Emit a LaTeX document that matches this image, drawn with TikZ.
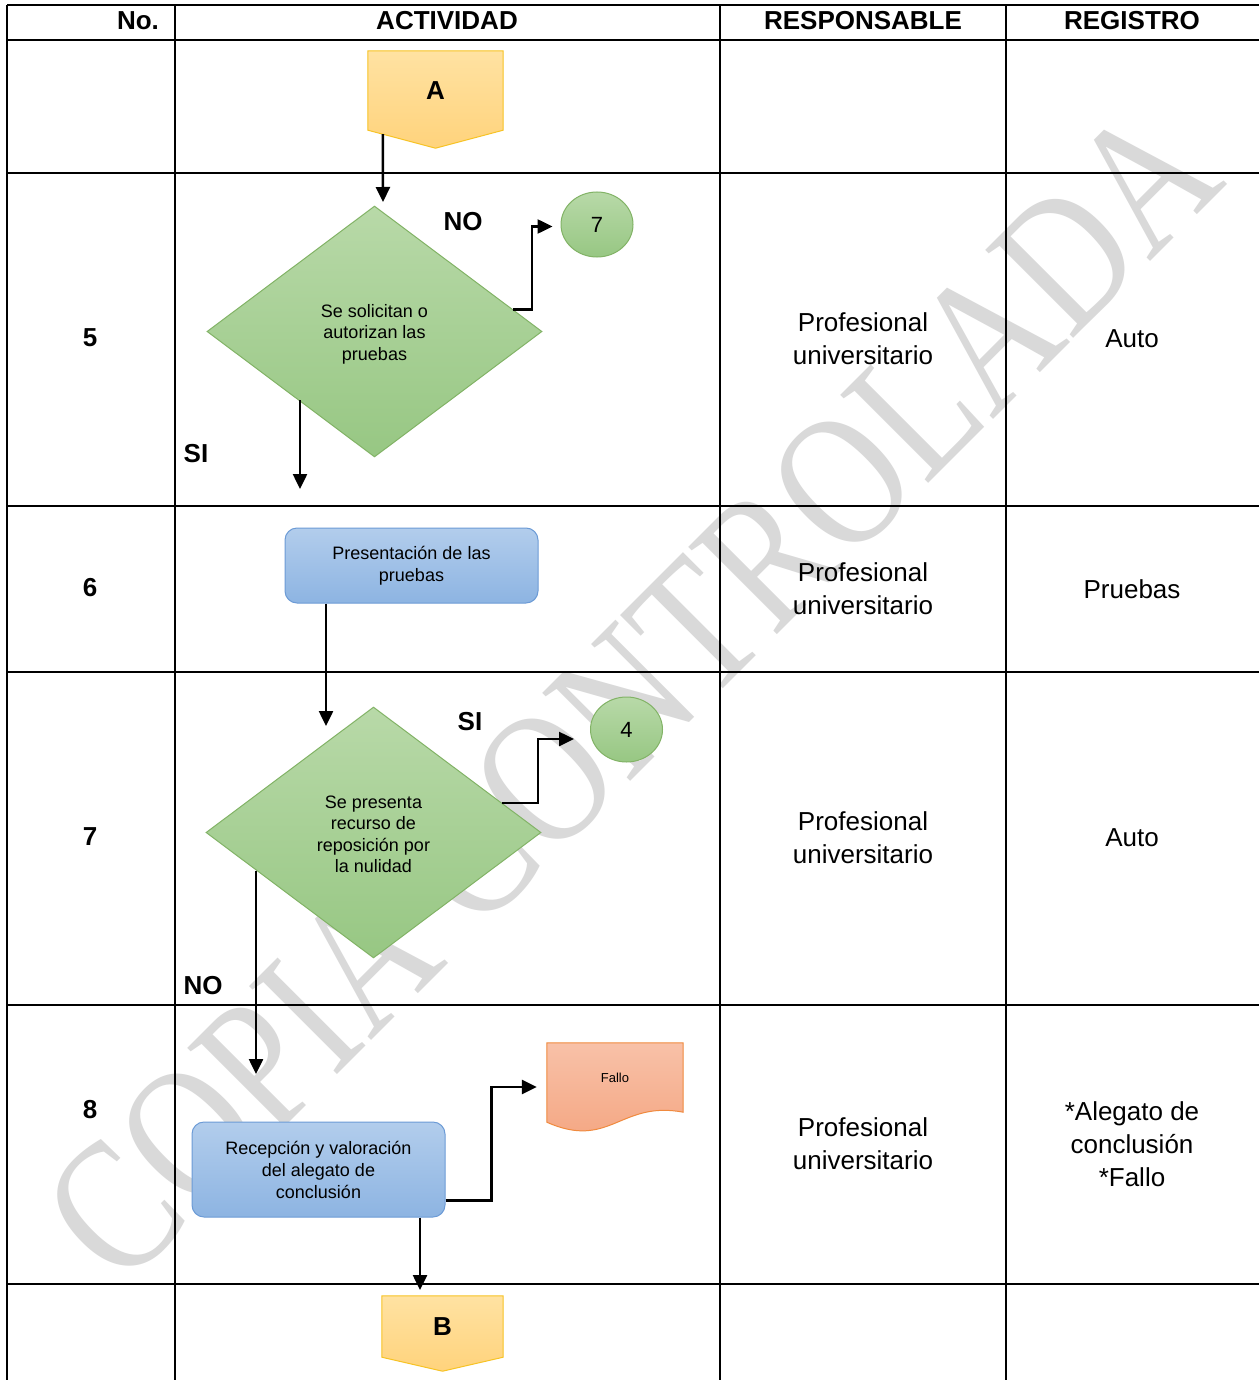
\documentclass[tikz,border=0pt]{standalone}
\usepackage{fontspec}
\setmainfont{Liberation Sans}
\newfontfamily\wmfont{Liberation Serif}
\usetikzlibrary{shapes.geometric,arrows.meta,calc}
\definecolor{ytop}{HTML}{FFE2A2}
\definecolor{ybot}{HTML}{FFD37C}
\definecolor{ystroke}{HTML}{F7C325}
\definecolor{gtop}{HTML}{B8D9A8}
\definecolor{gbot}{HTML}{97C783}
\definecolor{gstroke}{HTML}{82B366}
\definecolor{btop}{HTML}{B2CDEC}
\definecolor{bbot}{HTML}{8DB4E2}
\definecolor{bstroke}{HTML}{6C9BD6}
\definecolor{otop}{HTML}{F8C1A8}
\definecolor{obot}{HTML}{F4A47F}
\definecolor{ostroke}{HTML}{F08A3E}
\definecolor{wmgray}{HTML}{D9D9D9}
\begin{document}
\begin{tikzpicture}[x=1pt,y=-1pt,
  gridline/.style={line width=2.5pt},
  arr/.style={line width=2.5pt,-{Triangle[length=15pt,width=14pt]}},
  hdr/.style={font=\fontsize{26}{30}\selectfont\bfseries, inner sep=0pt},
  body/.style={font=\fontsize{26}{33}\selectfont, align=center, inner sep=0pt},
  box/.style={rectangle, inner sep=0pt},
  dec/.style={diamond, draw=gstroke, line width=1pt, top color=gtop, bottom color=gbot,
    minimum width=335pt, minimum height=251pt, inner sep=0pt, align=center,
    font=\fontsize{18}{21.5}\selectfont},
  dtext/.style={inner sep=0pt, align=center, font=\fontsize{18}{21.5}\selectfont},
  proc/.style={rectangle, rounded corners=12pt, draw=bstroke, line width=1pt,
    top color=btop, bottom color=bbot, minimum width=253pt, inner sep=0pt,
    align=center, font=\fontsize{18}{22}\selectfont},
  conn/.style={ellipse, draw=gstroke, line width=1pt, top color=gtop, bottom color=gbot,
    minimum width=72pt, minimum height=65pt, inner sep=0pt,
    font=\fontsize{22}{26}\selectfont},
  offp/.style={draw=ystroke, line width=1pt, top color=ytop, bottom color=ybot},
  docshape/.style={draw=ostroke, line width=1pt, top color=otop, bottom color=obot},
  wm/.style={font=\wmfont\fontsize{190}{190}\selectfont, text=wmgray, inner sep=0pt,
    anchor=base, rotate=45, xscale=0.813}
]
\useasboundingbox (0,0) rectangle (1259,1380);
\fill[white] (0,0) rectangle (1259,1380);

% watermark
\node[wm] (wm) at (675,737) {COPIA CONTROLADA};

% table grid
\foreach \yy in {5,40,173,506,672,1005,1284}
  \draw[gridline] (7,\yy) -- (1259,\yy);
\foreach \xx in {7,175,720,1006}
  \draw[gridline] (\xx,5) -- (\xx,1380);

% headers
\node[hdr] (hno) at (138,21) {No.};
\node[hdr] (hact) at (447,21) {ACTIVIDAD};
\node[hdr] (hres) at (863,21) {RESPONSABLE};
\node[hdr] (hreg) at (1132,21) {REGISTRO};

% row numbers
\node[hdr] (n5) at (90,338) {5};
\node[hdr] (n6) at (90,588) {6};
\node[hdr] (n7) at (90,837) {7};
\node[hdr] (n8) at (90,1110) {8};

% responsables
\node[body] (r5) at (863,339) {Profesional\\universitario};
\node[body] (r6) at (863,589) {Profesional\\universitario};
\node[body] (r7) at (863,838) {Profesional\\universitario};
\node[body] (r8) at (863,1144) {Profesional\\universitario};

% registros
\node[body] (g5) at (1132,339) {Auto};
\node[body] (g6) at (1132,589) {Pruebas};
\node[body] (g7) at (1132,838) {Auto};
\node[body] (g8) at (1132,1144) {*Alegato de\\conclusión\\*Fallo};

% off-page connector A
\node[box, minimum width=135pt, minimum height=97pt] (A) at (435.5,99.5) {};
\draw[offp] (A.north west) -- (A.north east) -- ([yshift=18pt]A.south east)
  -- (A.south) -- ([yshift=18pt]A.south west) -- cycle;
\node[hdr] (At) at (435.5,91) {A};

% off-page connector B
\node[box, minimum width=121pt, minimum height=75pt] (B) at (442.5,1333.5) {};
\draw[offp] (B.north west) -- (B.north east) -- ([yshift=14pt]B.south east)
  -- (B.south) -- ([yshift=14pt]B.south west) -- cycle;
\node[hdr] (Bt) at (442.5,1327) {B};

% decisions, processes, connectors
\node[dec] (D1) at (374.5,331.5) {};
\node[dtext] (D1t) at (374.5,334) {Se solicitan o\\autorizan las\\pruebas};
\node[dec] (D2) at (373.5,832.5) {};
\node[dtext] (D2t) at (373.5,834.5) {Se presenta\\recurso de\\reposición por\\la nulidad};
\node[proc, minimum height=75pt] (P1) at (411.5,565.5) {Presentación de las\\pruebas};
\node[proc, minimum height=95pt] (R2) at (318.5,1169.5) {Recepción y valoración\\del alegato de\\conclusión};
\node[conn] (C7) at (597,224.5) {7};
\node[conn] (C4) at (626.5,729.5) {4};

% document Fallo
\node[box, minimum width=136pt, minimum height=85pt] (F) at (615,1085.5) {};
\draw[docshape] (F.north west) -- (F.north east) -- ([yshift=16pt]F.south east)
  .. controls ($(F.south east)+(-63,-28)$) and ($(F.south west)+(63,22)$) ..
  ([yshift=6pt]F.south west) -- cycle;
\node[font=\fontsize{13}{15}\selectfont, inner sep=0pt] (Ft) at (615,1078) {Fallo};

% branch labels
\node[hdr] (lno1) at (463,222) {NO};
\node[hdr] (lsi1) at (196,454) {SI};
\node[hdr] (lsi2) at (470,722) {SI};
\node[hdr] (lno2) at (203,986) {NO};

% connectors
\coordinate (a1) at (383,202);
\draw[arr] ([xshift=15pt,yshift=14pt]A.south west) -- (a1);

\draw[arr] (D1.9) -- ++(19,0) |- ([xshift=-8pt,yshift=-2pt]C7.west);

\coordinate (s1) at (300,489);
\draw[arr] (D1.222 -| s1) -- (s1);

\coordinate (p1) at (326,726);
\draw[arr] (P1.south -| p1) -- (p1);

\draw[arr] (D2.13) -- ++(36,0) |- ([xshift=-16pt,yshift=-9.5pt]C4.west);

\coordinate (n1) at (256,1074);
\draw[arr] (D2.198 -| n1) -- (n1);

\draw[arr] ([yshift=17pt]R2.south east) -- ++(46,0) |- ([xshift=-10pt,yshift=-1.5pt]F.west);

\coordinate (b1) at (420,1290);
\draw[arr] (R2.south -| b1) -- (b1);
\end{tikzpicture}
\end{document}
